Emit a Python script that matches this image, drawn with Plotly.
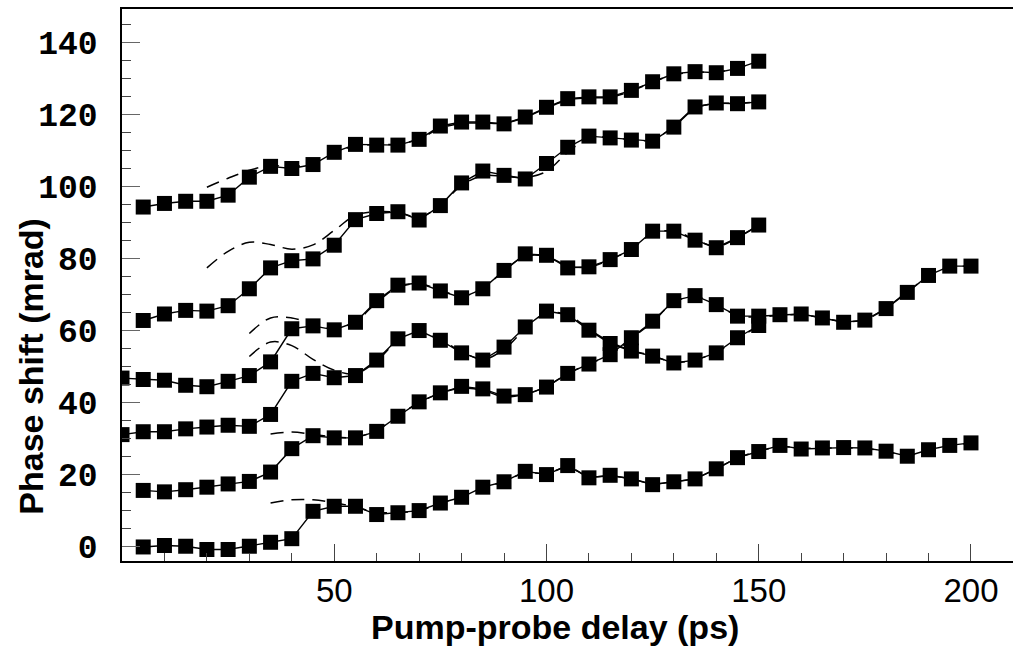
import plotly.graph_objects as go

# ---- data: solid series (markers) ----
xA = list(range(5, 151, 5))
yA = [94.3, 95.3, 95.9, 95.9, 97.6, 102.6, 105.6, 105.0, 106.1, 109.5, 111.7, 111.5, 111.5, 113.1, 116.8,
      117.9, 117.9, 117.4, 119.3, 122.0, 124.4, 124.9, 124.9, 126.7, 129.1, 131.3, 131.9, 131.6, 132.8, 134.8]
xB = list(range(5, 151, 5))
yB = [62.8, 64.6, 65.6, 65.4, 66.9, 71.6, 77.4, 79.4, 79.9, 83.7, 90.8, 92.5, 93.0, 90.7, 94.7,
      101.0, 104.3, 103.1, 102.1, 106.4, 110.9, 114.0, 113.5, 112.9, 112.6, 116.5, 122.1, 123.2, 123.0, 123.5]
xC = list(range(0, 151, 5))
yC = [46.8, 46.4, 46.2, 44.8, 44.4, 45.9, 47.5, 51.3, 60.5, 61.3, 60.2, 62.3, 68.3, 72.6, 73.2, 71.0,
      69.1, 71.6, 76.7, 81.3, 80.9, 77.4, 77.7, 79.7, 82.5, 87.6, 87.6, 85.1, 83.0, 85.8, 89.3]
xD = list(range(0, 151, 5))
yD = [31.1, 31.9, 31.9, 32.7, 33.2, 33.7, 33.4, 36.7, 45.9, 48.1, 46.9, 47.5, 51.8, 57.7, 60.0, 57.3,
      53.8, 51.8, 55.4, 61.0, 65.4, 64.4, 60.1, 56.4, 54.3, 52.9, 51.0, 51.8, 53.8, 58.0, 61.4]
xE = list(range(5, 201, 5))
yE = [15.6, 15.2, 15.8, 16.5, 17.4, 18.1, 20.7, 27.2, 30.8, 30.2, 30.2, 32.0, 36.2, 40.2, 42.7, 44.5,
      43.8, 41.8, 42.2, 44.3, 48.1, 50.7, 53.3, 58.0, 62.6, 68.3, 69.7, 67.2, 64.0, 64.0, 64.4, 64.6,
      63.5, 62.3, 62.9, 66.1, 70.6, 75.3, 77.9, 77.9]
xF = list(range(5, 201, 5))
yF = [-0.1, 0.3, 0.1, -0.8, -0.8, 0.1, 1.2, 2.2, 9.8, 11.2, 11.2, 8.9, 9.4, 10.0, 12.1, 13.7, 16.5,
      18.0, 20.9, 20.0, 22.5, 19.1, 19.8, 18.8, 17.2, 18.0, 18.8, 21.6, 24.7, 26.4, 28.1, 27.1, 27.4,
      27.5, 27.4, 26.5, 25.1, 26.9, 28.1, 28.8]

# ---- data: dashed fits ----
fxA = list(range(20, 151, 5))
fyA = [99.8, 102.3, 104.5, 105.8, 105.5, 106.5, 109.3, 111.3, 111.6, 111.8, 113.2, 116.2, 117.5, 117.6,
       117.6, 119.2, 121.8, 124.0, 124.6, 124.8, 126.5, 129.0, 131.0, 131.7, 131.8, 132.9, 134.6]
fxB = list(range(20, 151, 5))
fyB = [77.4, 82.0, 84.5, 83.9, 82.6, 83.8, 87.8, 92.0, 93.0, 92.8, 91.5, 94.8, 100.3, 103.0, 102.8,
       102.5, 104.2, 109.5, 113.5, 113.6, 113.0, 113.0, 116.8, 121.8, 123.0, 123.1, 123.5]
fxC = list(range(30, 151, 5))
fyC = [59.2, 63.5, 63.5, 61.8, 60.6, 62.5, 67.8, 72.0, 73.0, 71.3, 69.5, 71.8, 76.6, 80.6, 80.6, 78.0,
       77.6, 79.7, 82.6, 87.0, 87.6, 85.3, 83.3, 85.8, 89.2]
fxD = list(range(30, 151, 5))
fyD = [52.8, 56.8, 55.8, 52.0, 49.0, 48.0, 51.6, 57.2, 59.6, 57.4, 54.2, 52.0, 54.8, 60.5, 64.8, 64.4,
       60.4, 56.8, 54.5, 53.0, 51.2, 51.9, 53.9, 57.8, 61.2]
fxE = list(range(35, 201, 5))
fyE = [31.3, 31.8, 31.2, 30.4, 30.4, 32.3, 36.4, 40.0, 42.6, 44.0, 43.4, 41.6, 42.3, 44.5, 48.0, 50.8,
       53.2, 57.8, 62.4, 67.8, 69.4, 67.3, 64.2, 63.8, 64.2, 64.4, 63.5, 62.5, 63.0, 66.3, 70.8, 75.0,
       77.5, 77.9]
fxF = list(range(35, 201, 5))
fyF = [12.1, 13.0, 13.0, 12.2, 11.0, 9.5, 9.5, 10.0, 12.0, 13.8, 16.3, 18.0, 20.5, 20.3, 22.0, 19.5,
       19.6, 18.8, 17.5, 18.0, 19.0, 21.6, 24.6, 26.5, 27.8, 27.3, 27.4, 27.4, 27.2, 26.5, 25.3, 26.8,
       28.0, 28.7]

xticks = [50, 100, 150, 200]
yticks = [0, 20, 40, 60, 80, 100, 120, 140]

fig = go.Figure()
for fx, fy in [(fxA, fyA), (fxB, fyB), (fxC, fyC), (fxD, fyD), (fxE, fyE), (fxF, fyF)]:
    fig.add_trace(go.Scatter(x=fx, y=fy, mode="lines",
                             line=dict(color="black", width=1.5, dash="13px,8px", shape="spline", smoothing=1.0),
                             showlegend=False, hoverinfo="skip"))
for x, y in [(xA, yA), (xB, yB), (xC, yC), (xD, yD), (xE, yE), (xF, yF)]:
    fig.add_trace(go.Scatter(x=x, y=y, mode="lines+markers",
                             line=dict(color="black", width=1.4),
                             marker=dict(symbol="square", size=15, color="black", line=dict(width=0)),
                             showlegend=False, cliponaxis=True))

fig.update_layout(
    width=1013, height=649, autosize=False,
    margin=dict(l=122, r=0, t=9, b=88, autoexpand=False),
    plot_bgcolor="white", paper_bgcolor="white",
    xaxis=dict(range=[0, 209.9], showline=True, linecolor="black", linewidth=1.5, mirror=True,
               automargin=False,
               showgrid=False, zeroline=False, ticks="inside", ticklen=17, tickwidth=1, tickcolor="#444",
               tickvals=xticks, ticktext=[str(v) for v in xticks], ticklabelstandoff=0,
               tickfont=dict(family="Liberation Sans", size=33, color="black"),
               minor=dict(tick0=0, dtick=10, ticks="inside", ticklen=8, tickwidth=1, tickcolor="#444")),
    yaxis=dict(range=[-4, 149.3], showline=True, linecolor="black", linewidth=1.5,
               automargin=False,
               showgrid=False, zeroline=False, ticks="inside", ticklen=18, tickwidth=1, tickcolor="#666",
               tickvals=yticks, ticktext=[str(v) for v in yticks], ticklabelstandoff=16,
               tickfont=dict(family="Liberation Mono", size=33, color="black", weight="bold"),
               minor=dict(tick0=0, dtick=5, ticks="inside", ticklen=9, tickwidth=1, tickcolor="#444")),
    annotations=[
        dict(text="Pump-probe delay (ps)", xref="paper", yref="paper", x=(555 - 122) / 891, y=-(627 - 561.3) / 552,
             showarrow=False, xanchor="center", yanchor="middle",
             font=dict(family="Liberation Sans", size=34, color="black", weight="bold")),
        dict(text="Phase shift (mrad)", xref="paper", yref="paper", x=-(122 - 31) / 891, y=(561.3 - 367) / 552,
             showarrow=False, xanchor="center", yanchor="middle", textangle=-90,
             font=dict(family="Liberation Sans", size=34, color="black", weight="bold")),
    ],
)

fig.write_html("out.html", config={"displayModeBar": False},
               post_script="document.body.style.margin='0';document.body.style.overflow='hidden';")
